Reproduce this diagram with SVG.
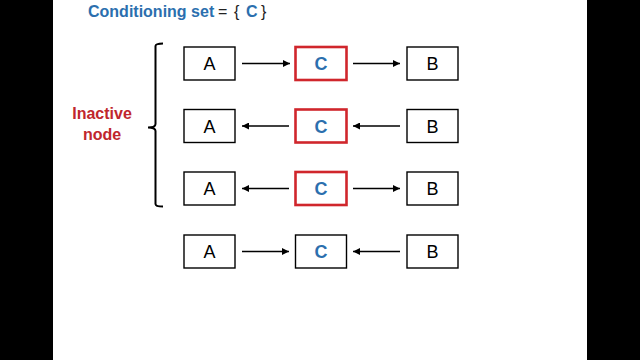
<svg xmlns="http://www.w3.org/2000/svg" width="640" height="360" viewBox="0 0 640 360">
<defs>
<style>
.bg{fill:#000}
.box{fill:#fff;stroke:#000;stroke-width:1.4}
.rbox{fill:#fff;stroke:#d0262c;stroke-width:2.6}
.lbl{font-family:"Liberation Sans",Arial,sans-serif;font-size:18px;fill:#000;text-anchor:middle}
.cl{font-family:"Liberation Sans",Arial,sans-serif;font-size:18px;font-weight:bold;fill:#2b6fae;text-anchor:middle}
.edge{stroke:#000;stroke-width:1.4;fill:none;marker-end:url(#ah)}
.title{font-family:"Liberation Sans",Arial,sans-serif;font-size:16px;font-weight:bold;fill:#2b6fae}
.red{font-family:"Liberation Sans",Arial,sans-serif;font-size:16px;font-weight:bold;fill:#c0262d;text-anchor:middle}
</style>
<marker id="ah" viewBox="0 0 10 10" refX="10" refY="5" markerWidth="7" markerHeight="7" markerUnits="userSpaceOnUse" orient="auto">
<path d="M0,0 L10,5 L0,10 Z" fill="#000"/>
</marker>
</defs>
<rect x="0" y="0" width="640" height="360" fill="#fff"/>
<rect class="bg" x="0" y="0" width="53" height="360"/>
<rect class="bg" x="587" y="0" width="53" height="360"/>
<g id="title">
<text x="88" y="17" class="title">Conditioning set<tspan x="218" fill="#222" font-weight="normal">=</tspan><tspan x="234" fill="#222" font-weight="normal">{</tspan><tspan x="246">C</tspan><tspan x="261" fill="#222" font-weight="normal">}</tspan></text>
</g>
<g id="inactive-label">
<text x="102" y="119" class="red">Inactive</text>
<text x="102" y="140" class="red">node</text>
<path d="M163,43.5 Q155.5,43.5 155.5,46 V124 Q155.5,127.5 148,127.5 Q155.5,127.5 155.5,131 V204 Q155.5,206.5 163,206.5" fill="none" stroke="#000" stroke-width="2"/>
</g>
<g id="row1">
<g id="A1"><rect class="box" x="184" y="47" width="51" height="33"/><text class="lbl" x="209.5" y="70">A</text></g>
<g id="C1"><rect class="rbox" x="295.5" y="47" width="51" height="33"/><text class="cl" x="321" y="70">C</text></g>
<g id="B1"><rect class="box" x="407" y="47" width="51" height="33"/><text class="lbl" x="432.5" y="70">B</text></g>
</g>
<g id="row2">
<g id="A2"><rect class="box" x="184" y="109.5" width="51" height="33"/><text class="lbl" x="209.5" y="132.5">A</text></g>
<g id="C2"><rect class="rbox" x="295.5" y="109.5" width="51" height="33"/><text class="cl" x="321" y="132.5">C</text></g>
<g id="B2"><rect class="box" x="407" y="109.5" width="51" height="33"/><text class="lbl" x="432.5" y="132.5">B</text></g>
</g>
<g id="row3">
<g id="A3"><rect class="box" x="184" y="172" width="51" height="33"/><text class="lbl" x="209.5" y="195">A</text></g>
<g id="C3"><rect class="rbox" x="295.5" y="172" width="51" height="33"/><text class="cl" x="321" y="195">C</text></g>
<g id="B3"><rect class="box" x="407" y="172" width="51" height="33"/><text class="lbl" x="432.5" y="195">B</text></g>
</g>
<g id="row4">
<g id="A4"><rect class="box" x="184" y="235" width="51" height="33"/><text class="lbl" x="209.5" y="258">A</text></g>
<g id="C4"><rect class="box" x="295.5" y="235" width="51" height="33"/><text class="cl" x="321" y="258">C</text></g>
<g id="B4"><rect class="box" x="407" y="235" width="51" height="33"/><text class="lbl" x="432.5" y="258">B</text></g>
</g>
<g id="connectors">
<line class="edge" x1="242" y1="63.5" x2="290" y2="63.5"/>
<line class="edge" x1="353" y1="63.5" x2="400" y2="63.5"/>
<line class="edge" x1="289" y1="126" x2="242" y2="126"/>
<line class="edge" x1="400" y1="126" x2="353" y2="126"/>
<line class="edge" x1="289" y1="188.5" x2="242" y2="188.5"/>
<line class="edge" x1="353" y1="188.5" x2="400" y2="188.5"/>
<line class="edge" x1="242" y1="251.5" x2="289" y2="251.5"/>
<line class="edge" x1="400" y1="251.5" x2="353" y2="251.5"/>
</g>
</svg>
